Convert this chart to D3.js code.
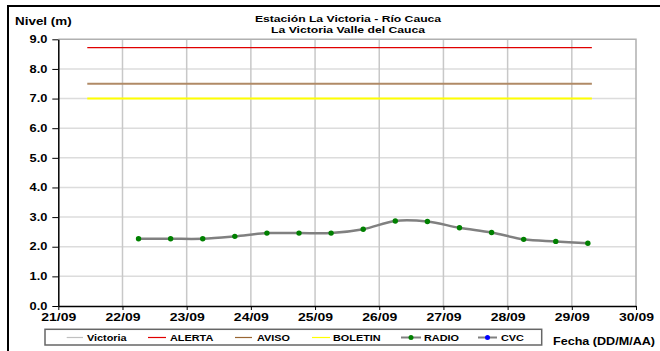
<!DOCTYPE html>
<html><head><meta charset="utf-8">
<script src="https://cdn.jsdelivr.net/npm/d3@7"></script>
<style>
html,body{margin:0;padding:0;background:#fff;}
svg{display:block;font-family:"Liberation Sans",Arial,sans-serif;font-weight:bold;}
</style></head>
<body>
<svg id="c" width="660" height="351"></svg>
<script>
// ---- data ----
const radioTimes = ["2009-09-22T06:00","2009-09-22T18:00","2009-09-23T06:00","2009-09-23T18:00",
  "2009-09-24T06:00","2009-09-24T18:00","2009-09-25T06:00","2009-09-25T18:00","2009-09-26T06:00",
  "2009-09-26T18:00","2009-09-27T06:00","2009-09-27T18:00","2009-09-28T06:00","2009-09-28T18:00",
  "2009-09-29T06:00"];
const radioValues = [2.27,2.27,2.27,2.35,2.46,2.46,2.46,2.59,2.87,2.85,2.64,2.48,2.25,2.18,2.12];
const thresholdNames = ["ALERTA","AVISO","BOLETIN"];
const thresholdValues = [8.72,7.5,7.0];
const thresholdSpan = ["2009-09-21T10:50","2009-09-29T07:30"];
const xTickLabels = ["21/09","22/09","23/09","24/09","25/09","26/09","27/09","28/09","29/09","30/09"];
const yTickValues = [0,1,2,3,4,5,6,7,8,9];
const legendNames = ["Victoria","ALERTA","AVISO","BOLETIN","RADIO","CVC"];
const titleLines = ["Estación La Victoria - Río Cauca","La Victoria Valle del Cauca"];

const parse = d3.timeParse("%Y-%m-%dT%H:%M");
const SX = 1.28;
const svg = d3.select("#c");

// frame
svg.append("line").attr("x1",7).attr("x2",660).attr("y1",6).attr("y2",6).attr("stroke","#000").attr("stroke-width",2);
svg.append("line").attr("x1",8).attr("x2",8).attr("y1",5).attr("y2",351).attr("stroke","#000").attr("stroke-width",2);

const L = 58.3, R = 636, T = 39.3, B = 306;
const x = d3.scaleTime().domain([parse("2009-09-21T00:00"), parse("2009-09-30T00:00")]).range([L,R]);
const y = d3.scaleLinear().domain([0,9]).range([B,T]);
const xTicks = d3.range(10).map(i => d3.timeDay.offset(parse("2009-09-21T00:00"), i));

function stext(g, px, py, str, size, anchor, sx) {
  const gg = g.append("g").attr("transform", `translate(${px},${py}) scale(${sx||SX},1)`);
  return gg.append("text").attr("x",0).attr("y",0).attr("font-size",size).attr("text-anchor",anchor||"start").attr("fill","#000").text(str);
}

// grid
svg.append("g").selectAll("line").data(yTickValues.slice(1,9)).join("line")
  .attr("x1",L).attr("x2",R).attr("y1",d=>y(d)).attr("y2",d=>y(d))
  .attr("stroke","#dcdcdc").attr("stroke-width",1.5);
svg.append("g").selectAll("line").data(xTicks.slice(1,9)).join("line")
  .attr("x1",d=>x(d)).attr("x2",d=>x(d)).attr("y1",T).attr("y2",B)
  .attr("stroke","#c8c8c8").attr("stroke-width",1.5);
// plot border top/right
svg.append("path").attr("d",`M${L},${T}H${R}V${B}`).attr("fill","none").attr("stroke","#b0b0b0").attr("stroke-width",1.5);

// threshold lines
const thrColors = ["#e00000","#b08a66","#ffff00"];
const thrWidths = [1.2,2,2];
thresholdValues.forEach((v,i)=>{
  svg.append("line").attr("x1",x(parse(thresholdSpan[0]))).attr("x2",x(parse(thresholdSpan[1])))
    .attr("y1",y(v)).attr("y2",y(v)).attr("stroke",thrColors[i]).attr("stroke-width",thrWidths[i]);
});

// radio series
const pts = radioTimes.map((t,i)=>({t:parse(t), v:radioValues[i]}));
svg.append("path").datum(pts)
  .attr("d", d3.line().x(d=>x(d.t)).y(d=>y(d.v)).curve(d3.curveCatmullRom.alpha(0.5)))
  .attr("fill","none").attr("stroke","#808080").attr("stroke-width",2.5);
svg.append("g").selectAll("circle").data(pts).join("circle")
  .attr("cx",d=>x(d.t)).attr("cy",d=>y(d.v)).attr("r",2.7).attr("fill","#008000");

// axes
const yAxis = svg.append("g").attr("transform",`translate(${L},0)`)
  .call(d3.axisLeft(y).tickValues(yTickValues).tickFormat(d3.format(".1f")).tickSize(6).tickSizeOuter(0));
yAxis.select(".domain").attr("stroke","#000").attr("stroke-width",1.5);
yAxis.selectAll(".tick line").attr("stroke","#000").attr("stroke-width",1);
yAxis.selectAll(".tick text").attr("font-size",10).attr("font-family",null).attr("fill","#000")
  .attr("x",-11/SX).attr("transform",`scale(${SX},1)`);

const xAxis = svg.append("g").attr("transform",`translate(0,${B})`)
  .call(d3.axisBottom(x).tickValues(xTicks).tickFormat((d,i)=>xTickLabels[i]).tickSize(4).tickSizeOuter(0));
xAxis.select(".domain").attr("stroke","#000").attr("stroke-width",1.5);
xAxis.selectAll(".tick line").attr("stroke","#000").attr("stroke-width",1);
xAxis.selectAll(".tick text").attr("font-size",10).attr("font-family",null).attr("fill","#000")
  .attr("y",8).attr("transform",`scale(1.4,1)`);

// titles
stext(svg, 348, 22, titleLines[0], 9.5, "middle");
stext(svg, 348, 32.5, titleLines[1], 9.5, "middle");
stext(svg, 15, 25, "Nivel (m)", 10.5, "start");
stext(svg, 553, 345, "Fecha (DD/M/AA)", 10.5, "start", 1.2);

// legend
svg.append("rect").attr("x",45).attr("y",329.3).attr("width",496.7).attr("height",15.7)
  .attr("fill","#fff").attr("stroke","#666").attr("stroke-width",1.5);
const legX1 = [66.7,148,235,312,401,478];
const legX2 = [83,166,252,330,421,497];
const legTX = [87,170,257,333,424,501];
const legColors = ["#c0c0c0","#e00000","#996633","#ffff00","#808080","#808080"];
const legDots = [null,null,null,null,"#008000","#0000ff"];
const ly = 337.5;
legendNames.forEach((n,i)=>{
  svg.append("line").attr("x1",legX1[i]).attr("x2",legX2[i]).attr("y1",ly).attr("y2",ly)
    .attr("stroke",legColors[i]).attr("stroke-width", i>=4?2:1.2);
  if (legDots[i]) svg.append("circle").attr("cx",(legX1[i]+legX2[i])/2).attr("cy",ly).attr("r",2.5).attr("fill",legDots[i]);
  stext(svg, legTX[i], 341, n, 8.5, "start");
});
</script>
</body></html>
